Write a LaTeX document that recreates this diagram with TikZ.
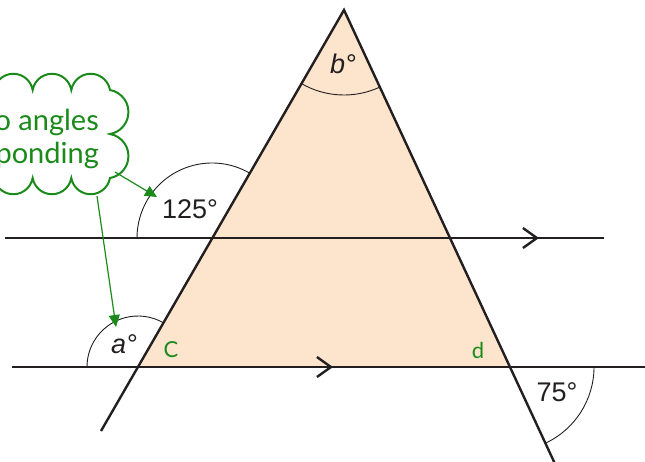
\documentclass[tikz,border=0pt]{standalone}
\usepackage{fontspec}
\setmainfont{Liberation Sans}
\newfontfamily\notefont{Lato}
\usetikzlibrary{arrows.meta}
\definecolor{ink}{HTML}{231F20}
\definecolor{peach}{HTML}{FDE4CC}
\definecolor{leaf}{HTML}{1A8A1A}
\tikzset{edge/.style={draw=ink,line width=2.4pt},anglearc/.style={draw=ink,line width=0.9pt},chev/.style={draw=ink,line width=2.4pt,-{Straight Barb[length=14pt,width=20pt]}},deg/.style={font=\fontsize{27}{30}\selectfont,text=ink,inner sep=0pt},tag/.style={font=\notefont\fontsize{22}{24}\selectfont,text=leaf,inner sep=0pt},note/.style={draw=leaf,line width=2pt,fill=white},notetext/.style={font=\notefont\fontsize{29}{33}\selectfont,text=leaf,align=right,inner sep=0pt},pointer/.style={draw=leaf,line width=1.2pt,-{Triangle[length=12pt,width=11pt]}}}

\begin{document}
\begin{tikzpicture}[x=1pt,y=-1pt]
\useasboundingbox (0,0) rectangle (645,461);
\clip (0,0) rectangle (645,461);
% triangle corners and crossing points
\coordinate (A) at (344,10);
\coordinate (C) at (138,367);
\coordinate (D) at (510,367);
\coordinate (P) at (212,238);
\fill[peach] (A)--(C)--(D)--cycle;
% parallel lines
\coordinate (t1) at (5,238);
\coordinate (t2) at (604,238);
\coordinate (tm) at (539,238);
\coordinate (b1) at (12,367);
\coordinate (b2) at (650,367);
\coordinate (bm) at (333,367);
\draw[edge] (t1)--(t2);
\draw[edge] (b1)--(b2);
\draw[chev] (t1)--(tm);
\draw[chev] (b1)--(bm);
% sides
\coordinate (ls) at (101,431);
\coordinate (rs) at (556,466);
\draw[edge,line join=miter] (ls)--(A)--(rs);
% angle arcs
\draw[anglearc] (A) ++(240:85pt) arc[start angle=240,end angle=295,radius=85pt];
\draw[anglearc] (P) ++(60:75pt) arc[start angle=60,end angle=180,radius=75pt];
\draw[anglearc] (C) ++(60:51pt) arc[start angle=60,end angle=180,radius=51pt];
\draw[anglearc] (D) ++(-65:84pt) arc[start angle=-65,end angle=0,radius=84pt];
\node[deg] (angb) at (343,64) {\itshape b°};
\node[deg] (ang125) at (190,209) {125°};
\node[deg] (anga) at (124,344) {\itshape a°};
\node[deg] (ang75) at (557,392) {75°};
\node[tag] (labc) at (171,350) {C};
\node[tag] (labd) at (478,350) {d};
% cloud
\draw[note] (-122,90) \foreach \i in {1,...,6} {arc[start angle=170,end angle=10,radius=19.63pt]}
  \foreach \i in {1,2} {arc[start angle=80,end angle=-80,radius=22.34pt]}
  \foreach \i in {1,...,6} {arc[start angle=-10,end angle=-170,radius=19.63pt]}
  \foreach \i in {1,2} {arc[start angle=260,end angle=100,radius=22.34pt]} -- cycle;
\node[notetext,anchor=east] (note) at (99,139) {These two angles\\are corresponding};
\coordinate (n1) at (115,172);
\coordinate (n2) at (97,196);
\coordinate (tip1) at (157,197);
\coordinate (tip2) at (116,327);
\draw[pointer] (n1)--(tip1);
\draw[pointer] (n2)--(tip2);
\end{tikzpicture}
\end{document}
